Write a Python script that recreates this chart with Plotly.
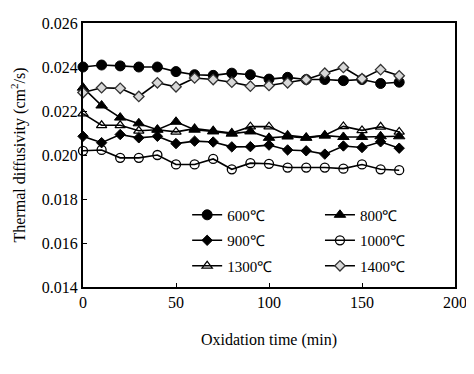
import plotly.graph_objects as go

time_min = [0, 10, 20, 30, 40, 50, 60, 70, 80, 90, 100, 110, 120, 130, 140, 150, 160, 170]

d600 = [0.02400, 0.02409, 0.02405, 0.02400, 0.02400, 0.02379, 0.02365, 0.02362, 0.02372, 0.02365,
        0.02345, 0.02353, 0.02343, 0.02343, 0.02338, 0.02343, 0.02325, 0.02331]
d800 = [0.02306, 0.02225, 0.02170, 0.02144, 0.02115, 0.02151, 0.02115, 0.02107, 0.02097, 0.02107,
        0.02078, 0.02084, 0.02078, 0.02088, 0.02082, 0.02082, 0.02085, 0.02085]
d900 = [0.02085, 0.02056, 0.02093, 0.02078, 0.02085, 0.02052, 0.02063, 0.02059, 0.02037, 0.02038,
        0.02045, 0.02023, 0.02019, 0.02004, 0.02041, 0.02034, 0.02060, 0.02031]
d1000 = [0.02019, 0.02023, 0.01987, 0.01987, 0.02000, 0.01957, 0.01957, 0.01982, 0.01935, 0.01963,
         0.01960, 0.01943, 0.01943, 0.01943, 0.01938, 0.01957, 0.01935, 0.01931]
d1300 = [0.02188, 0.02135, 0.02135, 0.02110, 0.02115, 0.02105, 0.02120, 0.02110, 0.02100, 0.02129,
         0.02129, 0.02090, 0.02080, 0.02090, 0.02130, 0.02112, 0.02128, 0.02105]
d1400 = [0.02284, 0.02306, 0.02303, 0.02266, 0.02328, 0.02310, 0.02350, 0.02343, 0.02331, 0.02313,
         0.02316, 0.02328, 0.02343, 0.02372, 0.02398, 0.02347, 0.02388, 0.02360]

series_names = ["600℃", "800℃", "900℃", "1000℃", "1300℃", "1400℃"]
series_data = [d600, d800, d900, d1000, d1300, d1400]

styles = [
    dict(symbol="circle", size=10, color="black", line=dict(color="black", width=1)),
    dict(symbol="triangle-up", size=10, color="black", line=dict(color="black", width=1)),
    dict(symbol="diamond", size=8, color="black", line=dict(color="black", width=1)),
    dict(symbol="circle-open", size=9, color="black", line=dict(color="black", width=1.3)),
    dict(symbol="triangle-up-open", size=9, color="black", line=dict(color="black", width=1.2)),
    dict(symbol="diamond", size=8, color="#d8d8d8", line=dict(color="#333333", width=1.3)),
]
legends = ["legend", "legend2", "legend", "legend2", "legend", "legend2"]

FONT = "Liberation Serif"

fig = go.Figure()
for i, (name, ys) in enumerate(zip(series_names, series_data)):
    fig.add_trace(go.Scatter(
        x=time_min, y=ys, name=name, mode="lines+markers",
        line=dict(color="black", width=1.6),
        marker=styles[i],
        cliponaxis=False,
        legend=legends[i],
        legendgroup=name,
    ))

legend_common = dict(
    bgcolor="rgba(0,0,0,0)", borderwidth=0,
    font=dict(family=FONT, size=15, color="black"),
    tracegroupgap=3, itemwidth=30,
    xanchor="left", yanchor="top",
)

# The page body has an 8px default margin, so the figure is drawn 8px in from the top-left.
fig.update_layout(
    width=466, height=366,
    margin=dict(l=75, r=16, t=7, b=87),
    paper_bgcolor="white", plot_bgcolor="white",
    font=dict(family=FONT, size=15, color="black"),
    showlegend=True,
    legend=dict(x=0.28, y=0.335, **legend_common),
    legend2=dict(x=0.637, y=0.335, **legend_common),
    xaxis=dict(
        range=[0, 200], tickvals=[0, 50, 100, 150, 200],
        showgrid=False, zeroline=False,
        showline=True, linecolor="black", linewidth=2, mirror=True,
        ticks="inside", ticklen=4, tickcolor="black",
        tickfont=dict(family=FONT, size=16),
        title=dict(text="Oxidation time (min)", font=dict(family=FONT, size=16), standoff=24),
    ),
    yaxis=dict(
        range=[0.014, 0.026], tickvals=[0.014, 0.016, 0.018, 0.020, 0.022, 0.024, 0.026],
        tickformat=".3f",
        showgrid=False, zeroline=False,
        showline=True, linecolor="black", linewidth=2, mirror=True,
        ticks="inside", ticklen=4, tickcolor="black",
        tickfont=dict(family=FONT, size=16),
        title=dict(text="Thermal diffusivity (cm<sup>2</sup>/s)", font=dict(family=FONT, size=16), standoff=12),
    ),
)

fig.write_html("out.html")
